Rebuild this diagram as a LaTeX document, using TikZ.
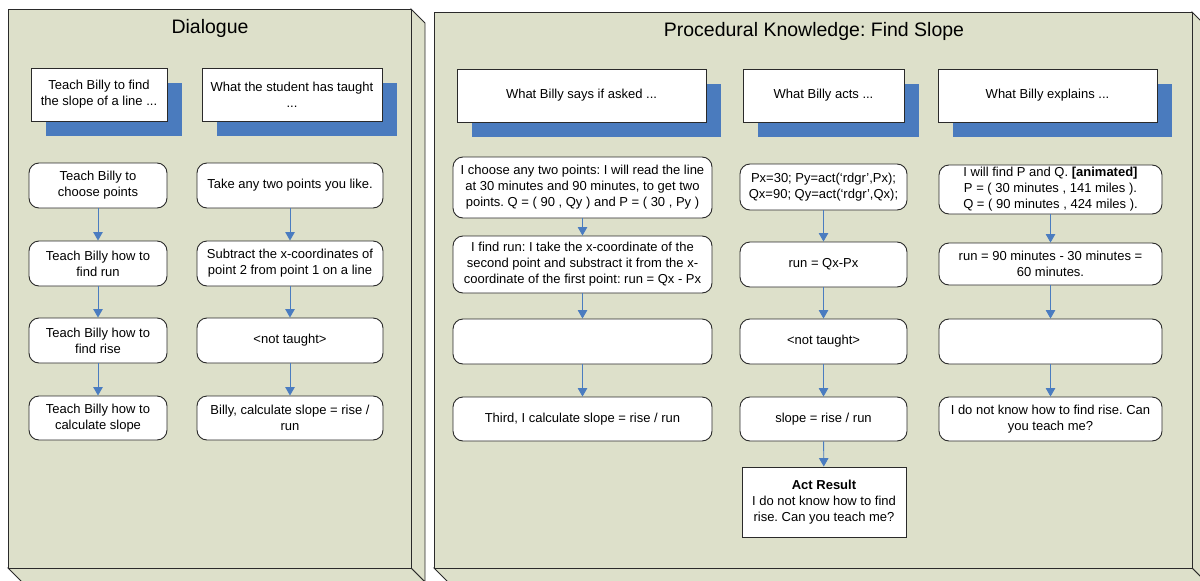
\documentclass[tikz,border=0pt]{standalone}
\usepackage{fontspec}
\setmainfont{Liberation Sans}
\usetikzlibrary{arrows.meta,shadows}
\frenchspacing

\definecolor{panel}{HTML}{DDE0CA}
\definecolor{shade}{HTML}{4A7BBE}
\definecolor{wire}{HTML}{4A7CC0}
\definecolor{edge}{HTML}{2A2A2A}

\begin{document}
\begin{tikzpicture}[x=1pt,y=-1pt,
  panelface/.style={fill=panel,draw=edge,line width=0.9pt,line join=miter},
  title/.style={font=\fontsize{19.5}{23}\selectfont,anchor=base,inner sep=0pt},
  txt/.style={font=\fontsize{13}{16}\selectfont,align=center,inner sep=0pt},
  headbox/.style={txt,draw=edge,fill=white,line width=0.9pt,
    drop shadow={shadow xshift=14.5pt,shadow yshift=-15pt,fill=shade,opacity=1}},
  stepbox/.style={txt,draw=edge,fill=white,rounded corners=10pt,line width=0.9pt},
  resultbox/.style={txt,draw=edge,fill=white,line width=0.9pt},
  flow/.style={draw=wire,line width=0.9pt,-{Triangle[width=9.5pt,length=8.5pt]}},
]
\clip (0,0) rectangle (1200,581);

% ---------- left panel: Dialogue ----------
\path[panelface] (411,9) -- (425,23) -- (425,582) -- (411,568) -- cycle;
\path[panelface] (8,568) -- (411,568) -- (425,582) -- (22,582) -- cycle;
\path[panelface] (8,9) rectangle (411,568);
\node[title] (dlgtitle) at (210,33.5) {Dialogue};

\node[headbox,minimum width=136pt,minimum height=53pt] (dh1) at (99,94.5)
  {Teach Billy to find\\the slope of a line ...};
\node[headbox,minimum width=180pt,minimum height=53pt] (dh2) at (292,94.5)
  {What the student has taught\\...};

\node[stepbox,minimum width=138pt,minimum height=45pt] (d11) at (98,185.5)
  {Teach Billy to\\choose points};
\node[stepbox,minimum width=138pt,minimum height=45pt] (d12) at (98,263.5)
  {Teach Billy how to\\find run};
\node[stepbox,minimum width=138pt,minimum height=45pt] (d13) at (98,340.5)
  {Teach Billy how to\\find rise};
\node[stepbox,minimum width=138pt,minimum height=44pt] (d14) at (98,418)
  {Teach Billy how to\\calculate slope};

\node[stepbox,minimum width=186pt,minimum height=45pt] (d21) at (290,185.5)
  {Take any two points you like.};
\node[stepbox,minimum width=186pt,minimum height=45pt] (d22) at (290,263.5)
  {Subtract the x-coordinates of\\point 2 from point 1 on a line};
\node[stepbox,minimum width=186pt,minimum height=45pt] (d23) at (290,340.5)
  {<not taught>};
\node[stepbox,minimum width=186pt,minimum height=44pt] (d24) at (290,418)
  {Billy, calculate slope = rise /\\run};

\draw[flow] (d11) -- (d12);
\draw[flow] (d12) -- (d13);
\draw[flow] (d13) -- (d14);
\draw[flow] (d21) -- (d22);
\draw[flow] (d22) -- (d23);
\draw[flow] (d23) -- (d24);

% ---------- right panel: Procedural Knowledge ----------
\path[panelface] (1192,12) -- (1206,26) -- (1206,582) -- (1192,568) -- cycle;
\path[panelface] (434,568) -- (1192,568) -- (1206,582) -- (448,582) -- cycle;
\path[panelface] (434,12) rectangle (1192,568);
\node[title] (pktitle) at (814,36) {Procedural Knowledge: Find Slope};

\node[headbox,minimum width=249pt,minimum height=53pt] (ph1) at (581.5,95.5)
  {What Billy says if asked ...};
\node[headbox,minimum width=161pt,minimum height=53pt] (ph2) at (823.5,95.5)
  {What Billy acts ...};
\node[headbox,minimum width=219pt,minimum height=53pt] (ph3) at (1047.5,95.5)
  {What Billy explains ...};

% says
\node[stepbox,minimum width=259pt,minimum height=61pt] (s1) at (582.5,187.5)
  {I choose any two points: I will read the line\\at 30 minutes and 90 minutes, to get two\\points. Q = ( 90 , Qy ) and P = ( 30 , Py )};
\node[stepbox,minimum width=259pt,minimum height=57pt] (s2) at (582.5,264.5)
  {I find run: I take the x-coordinate of the\\second point and substract it from the x-\\coordinate of the first point: run = Qx - Px};
\node[stepbox,minimum width=259pt,minimum height=45pt] (s3) at (582.5,341.5) {};
\node[stepbox,minimum width=259pt,minimum height=44pt] (s4) at (582.5,419)
  {Third, I calculate slope = rise / run};

% acts
\node[stepbox,minimum width=167pt,minimum height=46pt] (a1) at (823.5,187)
  {Px=30; Py=act(`rdgr',Px);\\Qx=90; Qy=act(`rdgr',Qx);};
\node[stepbox,minimum width=167pt,minimum height=45pt] (a2) at (823.5,264.5)
  {run = Qx-Px};
\node[stepbox,minimum width=167pt,minimum height=45pt] (a3) at (823.5,341.5)
  {<not taught>};
\node[stepbox,minimum width=167pt,minimum height=44pt] (a4) at (823.5,419)
  {slope = rise / run};
\node[resultbox,minimum width=164pt,minimum height=70pt] (ar) at (824,502)
  {\textbf{Act Result}\\I do not know how to find\\rise. Can you teach me?};

% explains
\node[stepbox,minimum width=223pt,minimum height=49pt] (e1) at (1050.5,189.5)
  {I will find P and Q. \textbf{[animated]}\\P = ( 30 minutes , 141 miles ).\\Q = ( 90 minutes , 424 miles ).};
\node[stepbox,minimum width=223pt,minimum height=42pt] (e2) at (1050.5,264)
  {run = 90 minutes - 30 minutes =\\60 minutes.};
\node[stepbox,minimum width=223pt,minimum height=45pt] (e3) at (1050.5,341.5) {};
\node[stepbox,minimum width=223pt,minimum height=44pt] (e4) at (1050.5,419)
  {I do not know how to find rise. Can\\you teach me?};

\draw[flow] (s1) -- (s2);
\draw[flow] (s2) -- (s3);
\draw[flow] (s3) -- (s4);
\draw[flow] (a1) -- (a2);
\draw[flow] (a2) -- (a3);
\draw[flow] (a3) -- (a4);
\draw[flow] (a4) -- (ar);
\draw[flow] (e1) -- (e2);
\draw[flow] (e2) -- (e3);
\draw[flow] (e3) -- (e4);
\end{tikzpicture}
\end{document}
